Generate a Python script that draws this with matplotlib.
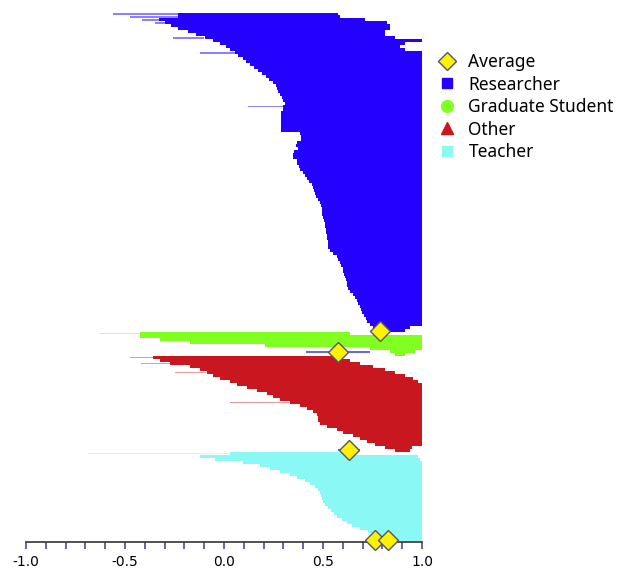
import numpy as np
import matplotlib.pyplot as plt
from matplotlib.lines import Line2D

# Correlation range per respondent (left end -> right end), sorted top to bottom
researcher_left = [
    -0.23, -0.23, -0.33, -0.30, -0.27, -0.232, -0.182, -0.141, -0.096, -0.056,
    -0.020, 0.010, 0.030, 0.056, 0.071, 0.096, 0.111, 0.131, 0.152, 0.172,
    0.192, 0.212, 0.227, 0.247, 0.263, 0.268, 0.273, 0.283, 0.293, 0.298,
    0.308, 0.298, 0.298, 0.288, 0.288, 0.288, 0.288, 0.288, 0.288, 0.288,
    0.384, 0.389, 0.389, 0.369, 0.364, 0.374, 0.354, 0.348, 0.348, 0.369,
    0.369, 0.379, 0.384, 0.399, 0.409, 0.419, 0.429, 0.444, 0.449, 0.455,
    0.460, 0.465, 0.475, 0.485, 0.490, 0.495, 0.495, 0.495, 0.500, 0.505,
    0.510, 0.510, 0.515, 0.515, 0.520, 0.520, 0.525, 0.525, 0.525, 0.535,
    0.551, 0.571, 0.576, 0.586, 0.591, 0.601, 0.601, 0.606, 0.611, 0.616,
    0.621, 0.621, 0.626, 0.636, 0.652, 0.662, 0.672, 0.677, 0.687, 0.692,
    0.697, 0.707, 0.717, 0.722, 0.737, 0.753, 0.778,
]
researcher_right = ([0.576, 0.586, 0.712, 0.823, 0.838, 0.838, 0.813, 0.813,
                     0.864, 1.0, 0.914, 0.889, 0.914]
                    + [1.0] * 92 + [0.939, 0.914])

grad_left = [-0.424, -0.424, -0.323, -0.172, 0.207, 0.737, 0.838, 0.864]
grad_right = [0.636, 1.0, 1.0, 1.0, 1.0, 1.0, 0.965, 0.915]

other_left = [
    -0.359, -0.323, -0.273, -0.172, -0.121, -0.086, -0.056, -0.020, 0.030, 0.066,
    0.116, 0.167, 0.217, 0.247, 0.283, 0.333, 0.384, 0.419, 0.449, 0.470,
    0.475, 0.475, 0.485, 0.520, 0.571, 0.601, 0.652, 0.687, 0.722, 0.763,
    0.813, 0.864,
]
other_right = ([0.586, 0.636, 0.687, 0.753, 0.813, 0.864, 0.914, 0.955, 0.980]
               + [1.0] * 21 + [0.949, 0.939])

teacher_left = [
    0.03, -0.121, -0.045, 0.096, 0.182, 0.232, 0.283, 0.333, 0.369, 0.409,
    0.434, 0.460, 0.475, 0.485, 0.490, 0.495, 0.500, 0.510, 0.525, 0.540,
    0.556, 0.571, 0.596, 0.621, 0.646, 0.687, 0.727, 0.763, 0.813, 0.864,
]
teacher_right = [0.60, 0.980, 0.990] + [1.0] * 27

# single thin outliers that stick out past the filled body
researcher_thin_row = [0, 1, 2, 3, 8, 13, 31]
researcher_thin_left = [-0.56, -0.475, -0.414, -0.348, -0.26, -0.12, 0.121]
researcher_thin_right = [-0.23, -0.23, -0.33, -0.30, -0.10, 0.06, 0.49]
grad_thin_row = [0]
grad_thin_left = [-0.626]
grad_thin_right = [-0.424]
other_thin_row = [0, 2, 5, 15]
other_thin_left = [-0.475, -0.42, -0.25, 0.03]
other_thin_right = [-0.359, -0.27, -0.09, 0.333]
teacher_thin_row = [0]
teacher_thin_left = [-0.687]
teacher_thin_right = [0.03]

# averages: group index, row inside the group, value, half-width of the error bar
avg_group = [0, 1, 2, 3, 3]
avg_row = [106, 6, 31, 29, 29]
avg_value = [0.788, 0.576, 0.631, 0.763, 0.828]
avg_err = [0.0, 0.157, 0.05, 0.0, 0.0]

names = ["Researcher", "Graduate Student", "Other", "Teacher"]
colors = ["#2400FF", "#80FF20", "#C8171E", "#8AF8F5"]
light = ["#8C80FF", "#C0FF90", "#E69A9C", "#C5FCFA"]
markers = ["s", "o", "^", "s"]

groups = [
    (researcher_left, researcher_right, researcher_thin_row, researcher_thin_left, researcher_thin_right),
    (grad_left, grad_right, grad_thin_row, grad_thin_left, grad_thin_right),
    (other_left, other_right, other_thin_row, other_thin_left, other_thin_right),
    (teacher_left, teacher_right, teacher_thin_row, teacher_thin_left, teacher_thin_right),
]

fig = plt.figure(figsize=(6.33, 5.71), dpi=100)
ax = fig.add_axes([26 / 633, 29 / 571, 396 / 633, 532 / 571])

starts = []
start = 0
for (lo, hi, t_row, t_lo, t_hi), col, lcol in zip(groups, colors, light):
    lo = np.array(lo)
    hi = np.array(hi)
    rows = start + np.arange(len(lo))
    ax.barh(start + np.array(t_row), np.array(t_hi) - np.array(t_lo), left=t_lo,
            height=0.45, color=lcol, linewidth=0, zorder=1)
    ax.barh(rows, hi - lo, left=lo, height=1.0, color=col, linewidth=0, zorder=2)
    starts.append(start)
    start += len(lo)
n_rows = start

# average markers with their error bars
for g, r, v, e in zip(avg_group, avg_row, avg_value, avg_err):
    y = starts[g] + r
    if e > 0:
        ax.plot([v - e, v + e], [y, y], color="#6B6BC8", lw=1.5, zorder=4,
                clip_on=False)
    ax.plot(v, y, marker="D", ms=10.5, mfc="#FFF200", mec="#55556A", mew=1.0,
            zorder=5, clip_on=False)

ax.set_xlim(-1.0, 1.0)
ax.set_ylim(n_rows - 0.33, -1.34)
ax.set_yticks([])
for side in ["left", "right", "top"]:
    ax.spines[side].set_visible(False)
ax.spines["bottom"].set_color("#333333")
ax.spines["bottom"].set_linewidth(1.2)
ax.spines["bottom"].set_zorder(3)
ax.set_xticks([-1.0, -0.5, 0.0, 0.5, 1.0])
ax.set_xticks(np.arange(-10, 11) / 10, minor=True)
ax.set_xticklabels(["-1.0", "-0.5", "0.0", "0.5", "1.0"])
ax.tick_params(axis="x", which="both", direction="out", length=5, width=1.2,
               color="#4A4AA0", labelsize=10, pad=4)

handles = [Line2D([], [], ls="none", marker="D", ms=9, mfc="#FFF200",
                  mec="#55556A", mew=1.0)]
for col, m, ms in zip(colors, markers, [7.5, 8.5, 8.5, 7.5]):
    handles.append(Line2D([], [], ls="none", marker=m, ms=ms, color=col))
fig.legend(handles, ["Average"] + names, loc="upper left",
           bbox_to_anchor=(438 / 633, 1 - 53 / 571), frameon=False,
           prop={"family": "Noto Sans", "size": 12.5}, handlelength=1.0,
           handletextpad=0.75, labelspacing=0.26, borderpad=0, borderaxespad=0)

fig.savefig("out.png", dpi=100)
